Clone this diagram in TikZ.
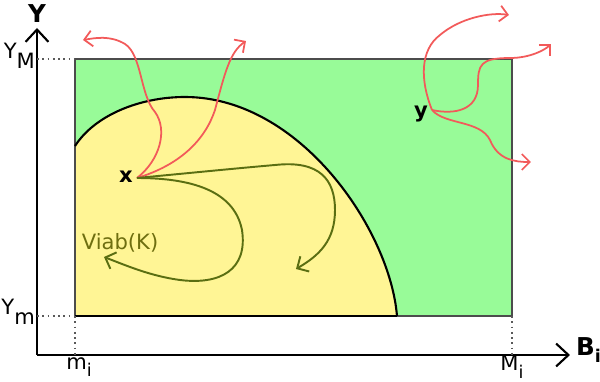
\documentclass[tikz,border=0pt]{standalone}
\usepackage{fontspec}
\setmainfont{DejaVu Sans}
\usetikzlibrary{positioning, arrows.meta}

\definecolor{fieldgreen}{HTML}{98FB98}
\definecolor{viabyellow}{HTML}{FFF595}
\definecolor{escapered}{HTML}{F25A5A}
\definecolor{stayolive}{HTML}{5A6E12}
\definecolor{viabtext}{HTML}{6E6E10}

\begin{document}
\begin{tikzpicture}[
    x=0.02cm, y=-0.02cm,
    axis/.style={line width=1.2pt, -{Straight Barb[length=7pt, width=13pt, line width=1.2pt]}},
    guide/.style={dotted, line width=1pt, black!65},
    escape/.style={escapered, line width=1pt, -{Straight Barb[length=4.5pt, width=9pt]}},
    stay/.style={stayolive, line width=1.1pt, -{Straight Barb[length=5pt, width=10pt]}},
    every node/.style={font=\fontsize{12}{14}\selectfont, inner sep=1pt}
]
\useasboundingbox (0,0) rectangle (600,382);

% Regions
\fill[fieldgreen] (75,59) rectangle (512,316);
\fill[viabyellow] (75,316) -- (75,146) .. controls (95,115) and (140,97) .. (185,97)
    .. controls (300,97) and (390,230) .. (397,316) -- cycle;
\draw[black!70, line width=1pt] (75,59) rectangle (512,316);
\draw[line width=1.2pt] (75,146) .. controls (95,115) and (140,97) .. (185,97)
    .. controls (300,97) and (390,230) .. (397,316);
\draw[line width=1.2pt] (75,316) -- (397,316);

% Axes
\coordinate (O) at (37,355);
\coordinate (ytop) at (37,28);
\coordinate (xend) at (570,355);
\draw[axis] (O) -- (ytop);
\draw[axis] (O) -- (xend);

% Nodes
\node[font=\fontsize{14}{16}\selectfont\bfseries] (ylab) at (37,14) {Y};
\node[font=\fontsize{14}{16}\selectfont\bfseries, anchor=west] (bilab) at (574,350) {B\raisebox{-0.3em}{\fontsize{10}{10}\selectfont i}};
\node[anchor=east] (yM) at (37,56) {Y\raisebox{-0.45em}{M}};
\node[anchor=east] (ym) at (37,312) {Y\raisebox{-0.45em}{m}};
\node (mi) at (79,367) {m\raisebox{-0.35em}{\fontsize{10}{10}\selectfont i}};
\node (Mi) at (512,367) {M\raisebox{-0.35em}{\fontsize{10}{10}\selectfont i}};
\node[font=\fontsize{12}{14}\selectfont\bfseries] (xlab) at (126,177) {x};
\node[font=\fontsize{12}{14}\selectfont\bfseries] (ylab2) at (421,114) {y};
\node[text=viabtext] (viab) at (120,243) {Viab(K)};

% Guides
\coordinate (topleft) at (75,59);
\coordinate (botleft) at (75,316);
\coordinate (botright) at (512,316);
\draw[guide] (37,59) -- (topleft);
\draw[guide] (37,316) -- (botleft);
\draw[guide] (botleft) -- (75,355);
\draw[guide] (botright) -- (512,355);

% Trajectories
\coordinate (x) at (137,178);
\coordinate (y) at (432,110);
\coordinate (xout1) at (83,40);
\coordinate (xout2) at (246,41);
\coordinate (xin1) at (296,269);
\coordinate (xin2) at (104,257);
\coordinate (yout1) at (509,15);
\coordinate (yout2) at (551,44);
\coordinate (yout3) at (531,162);

\draw[escape] (x) .. controls (160,160) and (168,130) .. (155,112)
    .. controls (140,95) and (142,55) .. (125,44) .. controls (110,35) and (95,38) .. (xout1);
\draw[escape] (x) .. controls (180,165) and (205,140) .. (215,110)
    .. controls (225,72) and (230,52) .. (xout2);
\draw[stay] (x) .. controls (200,172) and (240,168) .. (275,165)
    .. controls (320,160) and (335,180) .. (335,210) .. controls (335,240) and (320,255) .. (xin1);
\draw[stay] (x) .. controls (200,178) and (235,195) .. (242,230)
    .. controls (248,270) and (220,285) .. (180,280) .. controls (150,276) and (125,265) .. (xin2);
\draw[escape] (y) .. controls (420,80) and (420,50) .. (440,35)
    .. controls (460,18) and (490,12) .. (yout1);
\draw[escape] (y) .. controls (455,115) and (478,110) .. (478,85)
    .. controls (478,65) and (480,58) .. (510,58) .. controls (530,58) and (545,50) .. (yout2);
\draw[escape] (y) .. controls (445,125) and (480,120) .. (490,140)
    .. controls (498,160) and (515,162) .. (yout3);

\end{tikzpicture}
\end{document}
